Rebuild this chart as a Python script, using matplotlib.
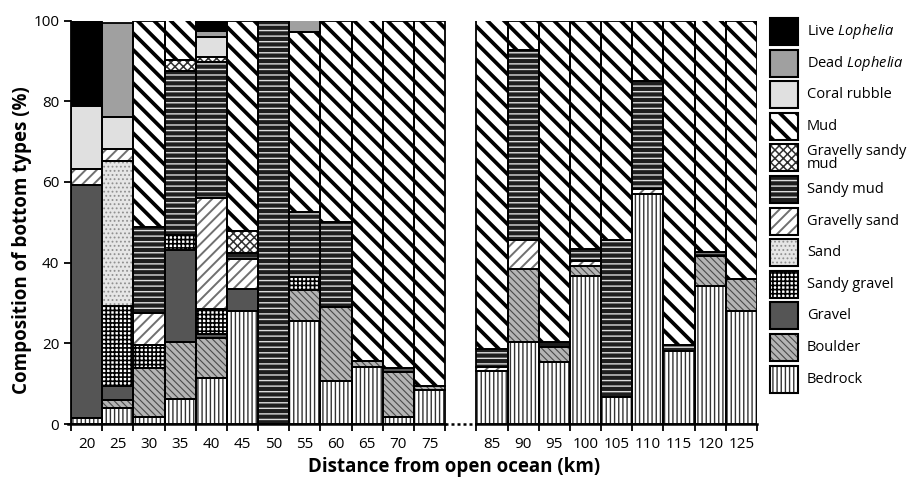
import numpy as np
import matplotlib
matplotlib.use('Agg')
import matplotlib.pyplot as plt
from matplotlib.patches import Rectangle

plt.rcParams['font.family'] = ['Open Sans', 'DejaVu Sans']
plt.rcParams['mathtext.fontset'] = 'custom'
plt.rcParams['mathtext.rm'] = 'Open Sans'
plt.rcParams['mathtext.it'] = 'Open Sans:italic'

# distance from open ocean (km); no site at 80
sites = [20, 25, 30, 35, 40, 45, 50, 55, 60, 65, 70, 75,
         85, 90, 95, 100, 105, 110, 115, 120, 125]
slots = [0, 1, 2, 3, 4, 5, 6, 7, 8, 9, 10, 11,
         13, 14, 15, 16, 17, 18, 19, 20, 21]

# composition (%) per bottom type, stacked bottom -> top
bedrock = [1.5, 4.0, 1.8, 6.2, 11.3, 27.9, 0, 25.5, 10.7, 14.2, 1.7, 8.4,
           13.2, 20.2, 15.3, 36.8, 6.8, 57.0, 18.2, 34.3, 28.1]
boulder = [0, 2.0, 12.1, 14.2, 9.9, 0, 0, 7.7, 18.2, 1.3, 11.1, 1.1,
           0, 18.2, 3.7, 2.4, 0, 0, 0, 7.4, 7.9]
gravel = [57.8, 3.3, 0, 22.8, 1.1, 5.6, 0, 0, 0, 0, 1.1, 0,
          0, 0, 0, 0, 0, 0, 0, 0, 0]
sandy_gravel = [0, 20.0, 5.7, 3.7, 6.2, 0, 0, 3.2, 0, 0, 0, 0,
                0, 0, 0, 0, 0, 0, 0, 0, 0]
sand = [0, 36.0, 0, 0, 0, 0, 0, 0, 0, 0, 0, 0,
        0, 0, 0, 0, 0, 0, 0, 0, 0]
gravelly_sand = [3.9, 2.9, 7.8, 0, 27.5, 7.4, 0, 0, 0, 0, 0, 0,
                 1.0, 7.1, 0, 1.1, 0, 1.3, 0, 0, 0]
sandy_mud = [0, 0, 21.5, 40.5, 33.7, 1.6, 100, 16.1, 21.1, 0, 0, 0,
             4.4, 47.1, 1.2, 3.1, 38.7, 26.8, 1.5, 0.9, 0]
gravelly_sandy_mud = [0, 0, 0, 2.7, 1.2, 5.3, 0, 0, 0, 0, 0, 0,
                      0, 0, 0, 0, 0, 0, 0, 0, 0]
mud = [0, 0, 51.1, 9.9, 0, 52.2, 0, 44.6, 50.0, 84.5, 86.1, 90.5,
       81.4, 7.4, 79.8, 56.6, 54.5, 14.9, 80.3, 57.4, 64.0]
coral_rubble = [15.6, 7.8, 0, 0, 5.0, 0, 0, 0, 0, 0, 0, 0,
                0, 0, 0, 0, 0, 0, 0, 0, 0]
dead_lophelia = [0, 23.5, 0, 0, 1.5, 0, 0, 2.9, 0, 0, 0, 0,
                 0, 0, 0, 0, 0, 0, 0, 0, 0]
live_lophelia = [21.2, 0, 0, 0, 2.6, 0, 0, 0, 0, 0, 0, 0,
                 0, 0, 0, 0, 0, 0, 0, 0, 0]

layers = [bedrock, boulder, gravel, sandy_gravel, sand, gravelly_sand,
          sandy_mud, gravelly_sandy_mud, mud, coral_rubble,
          dead_lophelia, live_lophelia]
labels = ['Bedrock', 'Boulder', 'Gravel', 'Sandy gravel', 'Sand',
          'Gravelly sand', 'Sandy mud', 'Gravelly sandy\nmud', 'Mud',
          'Coral rubble', r'Dead $\mathit{Lophelia}$',
          r'Live $\mathit{Lophelia}$']

# (face colour, hatch, hatch colour, hatch linewidth)
styles = [('white', '||||', '#333333', 1.0),
          ('#b4b4b4', '\\\\\\\\\\', '#4a4a4a', 0.8),
          ('#555555', None, None, 0),
          ('white', '++++', 'black', 1.2),
          ('#e6e6e6', '....', '#909090', 0.8),
          ('white', '///', '#707070', 1.4),
          ('#1e1e1e', '---', '#dcdcdc', 1.0),
          ('white', 'xxxx', '#303030', 1.1),
          ('white', '\\\\', 'black', 2.7),
          ('#e0e0e0', None, None, 0),
          ('#a0a0a0', None, None, 0),
          ('black', None, None, 0)]


def styled_patch(artist, face, hatch, hcol, hlw):
    artist.set_facecolor(face)
    if hatch:
        artist.set_hatch(hatch)
        artist.set_edgecolor(hcol)
        if hasattr(artist, 'set_hatch_linewidth'):
            artist.set_hatch_linewidth(hlw)


fig = plt.figure(figsize=(9.08, 4.82), dpi=100)
ax = fig.add_axes([71 / 908, 1 - 424 / 482, 686 / 908, 403.5 / 482])

x = np.array(slots)
bottom = np.zeros(len(sites))
for vals, (face, hatch, hcol, hlw) in zip(layers, styles):
    vals = np.array(vals, dtype=float)
    m = vals > 0
    with plt.rc_context({'hatch.linewidth': max(hlw, 0.1)}):
        bars = ax.bar(x[m], vals[m], width=1.0, bottom=bottom[m],
                      linewidth=0, zorder=2)
        for b in bars:
            styled_patch(b, face, hatch, hcol, hlw)
    ax.bar(x[m], vals[m], width=1.0, bottom=bottom[m], fill=False,
           edgecolor='black', linewidth=1.3, zorder=3)
    bottom += vals

ax.set_xlim(-0.5, 21.5)
ax.set_ylim(0, 100)
for s in ['top', 'right', 'bottom']:
    ax.spines[s].set_visible(False)
ax.spines['left'].set_linewidth(1.3)

# broken x axis: solid, dotted across the missing 80 km slot, solid
ax.plot([-0.6, 11.5], [0, 0], color='black', lw=1.8, clip_on=False, zorder=4)
ax.plot([11.5, 12.5], [0, 0], color='black', lw=1.8, ls=(0, (1.2, 1.2)),
        clip_on=False, zorder=4)
ax.plot([12.5, 21.5], [0, 0], color='black', lw=1.8, clip_on=False, zorder=4)

ax.set_xticks(x)
ax.set_xticklabels([str(s) for s in sites], fontsize=11)
edges = list(np.arange(-0.5, 12, 1.0)) + list(np.arange(12.5, 22, 1.0))
ax.set_xticks(edges, minor=True)
ax.tick_params(axis='x', which='major', length=0, pad=9)
ax.tick_params(axis='x', which='minor', length=5, width=1.3, direction='out')
ax.set_yticks([0, 20, 40, 60, 80, 100])
ax.tick_params(axis='y', length=5, width=1.3, direction='out', labelsize=11)

# axis titles are centred on the whole figure in the original
fig.text(22 / 908, 1 - 240 / 482, 'Composition of bottom types (%)',
         fontsize=13.5, fontweight='bold', rotation=90,
         ha='center', va='center')
fig.text(454 / 908, 1 - 467 / 482, 'Distance from open ocean (km)',
         fontsize=13.5, fontweight='bold', ha='center', va='center')

# legend drawn in pixel coordinates on the right
lax = fig.add_axes([760 / 908, 0, 148 / 908, 1])
lax.set_xlim(760, 908)
lax.set_ylim(482, 0)
lax.axis('off')
for i, (lab, (face, hatch, hcol, hlw)) in enumerate(
        zip(labels[::-1], styles[::-1])):
    top = 18 + 31.6 * i
    with plt.rc_context({'hatch.linewidth': max(hlw, 0.1)}):
        r = Rectangle((770, top), 28, 27, linewidth=0)
        styled_patch(r, face, hatch, hcol, hlw)
        lax.add_patch(r)
    lax.add_patch(Rectangle((770, top), 28, 27, fill=False,
                            edgecolor='black', linewidth=1.5))
    lax.text(807, top + 13.5, lab, fontsize=10.5, va='center', ha='left',
             linespacing=0.85)

fig.savefig('out.png', dpi=100)
